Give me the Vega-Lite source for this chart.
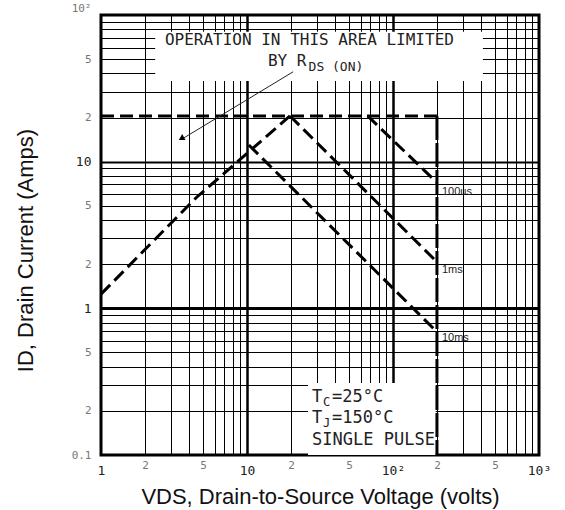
{
  "$schema": "https://vega.github.io/schema/vega-lite/v6.json",
  "width": 438,
  "height": 440,
  "autosize": {"type": "none"},
  "padding": {"left": 101, "top": 15, "right": 26, "bottom": 55},
  "background": "white",
  "config": {
    "view": {"stroke": "#000", "strokeWidth": 3},
    "axis": {"ticks": false, "domain": false, "grid": true, "gridColor": "#000", "gridOpacity": 1, "labelOverlap": false, "labelBound": false, "labelFlush": false, "labelFont": "DejaVu Sans Mono", "titleFont": "Liberation Sans", "titleFontWeight": "normal", "titleColor": "#111", "titleFontSize": 22}
  },
  "datasets": {
    "boxes": [
      {"x": 2.35, "x2": 413, "y": 35.5, "y2": 77},
      {"x": 26.2, "x2": 196, "y": 0.1, "y2": 0.31}
    ],
    "curves": [
      {"seg": "limit", "ord": 0, "x": 1, "y": 20.5},
      {"seg": "limit", "ord": 1, "x": 200, "y": 20.5},
      {"seg": "rds", "ord": 0, "x": 1, "y": 1.25},
      {"seg": "rds", "ord": 1, "x": 4.5, "y": 5.7},
      {"seg": "rds", "ord": 2, "x": 19.7, "y": 20.5},
      {"seg": "100us", "ord": 0, "x": 67, "y": 20.5},
      {"seg": "100us", "ord": 1, "x": 200, "y": 7.2},
      {"seg": "1ms", "ord": 0, "x": 19.7, "y": 20.5},
      {"seg": "1ms", "ord": 1, "x": 200, "y": 2.07},
      {"seg": "10ms", "ord": 0, "x": 10.3, "y": 13},
      {"seg": "10ms", "ord": 1, "x": 200, "y": 0.69}
    ],
    "vline": [
      {"ord": 0, "x": 200, "y": 20.5},
      {"ord": 1, "x": 200, "y": 0.1}
    ],
    "arrow": [
      {"ord": 0, "x": 20.7, "y": 41},
      {"ord": 1, "x": 3.6, "y": 14.3}
    ],
    "arrowhead": [{"x": 3.55, "y": 14.4}],
    "curveLabels": [
      {"x": 200, "y": 6.25, "t": "100us"},
      {"x": 200, "y": 1.83, "t": "1ms"},
      {"x": 200, "y": 0.63, "t": "10ms"}
    ],
    "notesBig": [
      {"x": 2.74, "y": 67.5, "t": "OPERATION IN THIS AREA LIMITED"},
      {"x": 13.9, "y": 48.3, "t": "BY R"}
    ],
    "notesSub": [
      {"x": 26.4, "y": 44.5, "t": "DS (ON)"}
    ],
    "notesLow": [
      {"x": 27.9, "y": 0.249, "t": "T"},
      {"x": 27.9, "y": 0.179, "t": "T"},
      {"x": 27.9, "y": 0.127, "t": "SINGLE PULSE"}
    ],
    "notesLowSub": [
      {"x": 27.9, "y": 0.249, "t": "C"},
      {"x": 27.9, "y": 0.179, "t": "J"}
    ],
    "notesLowRest": [
      {"x": 27.9, "y": 0.249, "t": "=25°C"},
      {"x": 27.9, "y": 0.179, "t": "=150°C"}
    ]
  },
  "encoding": {
    "x": {
      "field": "x", "type": "quantitative",
      "scale": {"type": "log", "domain": [1, 1000], "nice": false},
      "axis": {
        "title": "VDS, Drain-to-Source Voltage (volts)",
        "values": [1,2,3,4,5,6,7,8,9,10,20,30,40,50,60,70,80,90,100,200,300,400,500,600,700,800,900,1000],
        "labelExpr": "datum.value==1?'1':datum.value==10?'10':datum.value==100?'10²':datum.value==1000?'10³':(datum.value==2||datum.value==20||datum.value==200)?'2':(datum.value==5||datum.value==50||datum.value==500)?'5':''",
        "gridWidth": {"condition": {"test": "datum.value==10||datum.value==100", "value": 2.5}, "value": 1},
        "labelFontSize": {"condition": {"test": "datum.value==1||datum.value==10||datum.value==100||datum.value==1000", "value": 13}, "value": 11},
        "labelColor": {"condition": {"test": "datum.value==1||datum.value==10||datum.value==100||datum.value==1000", "value": "#222"}, "value": "#777"},
        "labelPadding": {"condition": {"test": "datum.value==1||datum.value==10||datum.value==100||datum.value==1000", "value": 15}, "value": 10},
        "labelBaseline": "middle",
        "titleY": 48,
        "titleBaseline": "alphabetic"
      }
    },
    "y": {
      "field": "y", "type": "quantitative",
      "scale": {"type": "log", "domain": [0.1, 100], "nice": false},
      "axis": {
        "title": "ID, Drain Current (Amps)",
        "values": [0.1,0.2,0.3,0.4,0.5,0.6,0.7,0.8,0.9,1,2,3,4,5,6,7,8,9,10,20,30,40,50,60,70,80,90,100],
        "labelExpr": "datum.value==100?'10²':datum.value==10?'10':datum.value==1?'1':datum.value==0.1?'0.1':(datum.value==2||datum.value==20||datum.value==0.2)?'2':(datum.value==5||datum.value==50||datum.value==0.5)?'5':''",
        "gridWidth": {"condition": [{"test": "datum.value==1", "value": 3}, {"test": "datum.value==10", "value": 2}], "value": 1},
        "labelFontSize": {"condition": {"test": "datum.value==1||datum.value==10", "value": 13}, "value": 11},
        "labelColor": {"condition": {"test": "datum.value==1||datum.value==10", "value": "#222"}, "value": "#777"},
        "labelOffset": {"condition": {"test": "datum.value==100", "value": -7}, "value": 0},
        "labelPadding": 10,
        "labelBaseline": "middle",
        "titleX": -76,
        "titleY": 235,
        "titleBaseline": "middle"
      }
    }
  },
  "layer": [
    {
      "data": {"name": "boxes"},
      "mark": {"type": "rect", "fill": "white", "stroke": null},
      "encoding": {"x2": {"field": "x2"}, "y2": {"field": "y2"}}
    },
    {
      "data": {"name": "curves"},
      "mark": {"type": "line", "color": "#000", "strokeWidth": 3, "strokeDash": [13, 6]},
      "encoding": {"detail": {"field": "seg"}, "order": {"field": "ord"}}
    },
    {
      "data": {"name": "vline"},
      "mark": {"type": "line", "color": "#000", "strokeWidth": 3, "strokeDash": [24, 3]},
      "encoding": {"order": {"field": "ord"}}
    },
    {
      "data": {"name": "arrow"},
      "mark": {"type": "line", "color": "#222", "strokeWidth": 1},
      "encoding": {"order": {"field": "ord"}}
    },
    {
      "data": {"name": "arrowhead"},
      "mark": {"type": "point", "shape": "triangle-up", "angle": 240, "size": 45, "filled": true, "color": "#000", "opacity": 1}
    },
    {
      "data": {"name": "curveLabels"},
      "mark": {"type": "text", "align": "left", "baseline": "middle", "dx": 5, "font": "Liberation Sans", "fontSize": 11, "color": "#222"},
      "encoding": {"text": {"field": "t"}}
    },
    {
      "data": {"name": "notesBig"},
      "mark": {"type": "text", "align": "left", "baseline": "middle", "font": "DejaVu Sans Mono", "fontSize": 16, "color": "#222"},
      "encoding": {"text": {"field": "t"}}
    },
    {
      "data": {"name": "notesSub"},
      "mark": {"type": "text", "align": "left", "baseline": "middle", "font": "DejaVu Sans Mono", "fontSize": 13, "color": "#222"},
      "encoding": {"text": {"field": "t"}}
    },
    {
      "data": {"name": "notesLow"},
      "mark": {"type": "text", "align": "left", "baseline": "middle", "font": "DejaVu Sans Mono", "fontSize": 17, "color": "#222"},
      "encoding": {"text": {"field": "t"}}
    },
    {
      "data": {"name": "notesLowSub"},
      "mark": {"type": "text", "align": "left", "baseline": "middle", "dx": 11, "dy": 5, "font": "DejaVu Sans Mono", "fontSize": 12, "color": "#222"},
      "encoding": {"text": {"field": "t"}}
    },
    {
      "data": {"name": "notesLowRest"},
      "mark": {"type": "text", "align": "left", "baseline": "middle", "dx": 20, "font": "DejaVu Sans Mono", "fontSize": 17, "color": "#222"},
      "encoding": {"text": {"field": "t"}}
    }
  ]
}
